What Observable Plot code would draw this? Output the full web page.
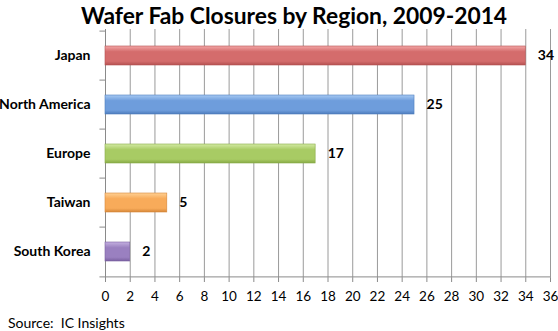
<!DOCTYPE html>
<html>
<head>
<meta charset="utf-8">
<script src="https://cdn.jsdelivr.net/npm/d3@7"></script>
<script src="https://cdn.jsdelivr.net/npm/@observablehq/plot@0.6"></script>
<style>
  body { margin: 0; background: #fff; font-family: Lato, "Open Sans", sans-serif; }
  #title { height: 29px; line-height: 30px; font-size: 22.8px; font-weight: bold; text-align: center; padding-left: 30px; color: #000; white-space: nowrap; }
  #caption { font-size: 14px; padding-left: 8px; line-height: 17px; color: #000; }
</style>
</head>
<body>
<div id="title">Wafer Fab Closures by Region, 2009-2014</div>
<div id="chart"></div>
<div id="caption">Source:&nbsp; IC Insights</div>
<script>
const regions = ["Japan", "North America", "Europe", "Taiwan", "South Korea"];
const closures = [34, 25, 17, 5, 2];
const baseColors = ["#d46c6c", "#6e9ddc", "#a8cb64", "#f8ab5a", "#9a80c0"];
const lightColors = ["#f3a6a6", "#a6c9f3", "#d3eaa4", "#ffd194", "#c4b0e0"];
const darkColors = ["#b45252", "#4e7dbd", "#88aa46", "#d6883a", "#7a60a0"];
const xTicks = d3.range(0, 37, 2);

const data = regions.map((r, i) => ({region: r, value: closures[i], color: baseColors[i], idx: i}));

const H = 285, MT = 0, MB = 36;
const step = (H - MT - MB) / regions.length;

const chart = Plot.plot({
  width: 558,
  height: H,
  marginTop: MT,
  marginBottom: MB,
  marginLeft: 105,
  marginRight: 8,
  style: {fontFamily: "Lato, 'Open Sans', sans-serif", background: "#fff", color: "#000"},
  x: {domain: [0, 36], ticks: xTicks, label: null},
  y: {domain: regions, paddingInner: 0.61, paddingOuter: 0.305, label: null},
  color: {type: "identity"},
  marks: [
    Plot.ruleX(xTicks.filter(d => d > 0), {stroke: "#9a9a9a", strokeWidth: 1}),
    Plot.ruleX([0], {stroke: "#8a8a8a", strokeWidth: 1}),
    Plot.ruleY([regions[regions.length - 1]], {dy: step / 2, stroke: "#8a8a8a", x1: -0.45, x2: 36}),
    Plot.ruleY(regions, {dy: -step / 2, stroke: "#8a8a8a", x1: -0.45, x2: 0, clip: false}),
    Plot.barX(data, {x: "value", y: "region", fill: "color", className: "bars", stroke: d => darkColors[d.idx], strokeWidth: 0.6}),
    Plot.text(data, {x: "value", y: "region", text: d => String(d.value), textAnchor: "start", dx: 12, fontWeight: "bold", fontSize: 14, fill: "#000"}),
    Plot.axisX({ticks: xTicks, tickSize: 4, tickPadding: 9, fontSize: 13.5, stroke: "#8a8a8a", fill: "#000", anchor: "bottom"}),
    Plot.axisY({tickSize: 0, tickPadding: 15, fontSize: 14, fontWeight: "bold", fill: "#000", anchor: "left"})
  ]
});

// gradients for bar shading
const svg = d3.select(chart);
const defs = svg.insert("defs", ":first-child");
baseColors.forEach((c, i) => {
  const g = defs.append("linearGradient").attr("id", "g" + i).attr("x1", 0).attr("y1", 0).attr("x2", 0).attr("y2", 1);
  g.append("stop").attr("offset", "0%").attr("stop-color", lightColors[i]);
  g.append("stop").attr("offset", "30%").attr("stop-color", c);
  g.append("stop").attr("offset", "80%").attr("stop-color", c);
  g.append("stop").attr("offset", "100%").attr("stop-color", darkColors[i]);
});
svg.selectAll("g.bars rect").each(function(d, k) {
  d3.select(this).attr("fill", "url(#g" + k + ")");
});
document.getElementById("chart").appendChild(chart);
</script>
</body>
</html>
